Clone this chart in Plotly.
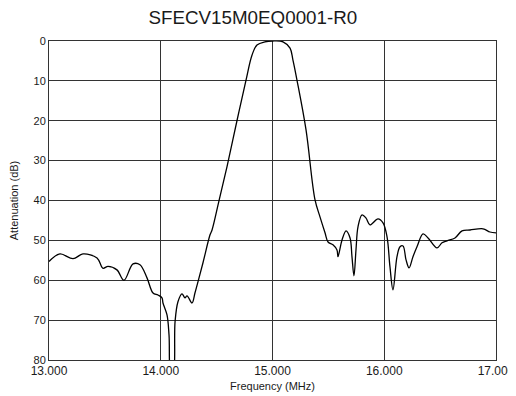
import plotly.graph_objects as go

freq_mhz = [13.000, 13.098, 13.215, 13.304, 13.430, 13.483, 13.528, 13.608, 13.671, 13.752,
            13.814, 13.877, 13.931, 13.975, 14.011, 14.020, 14.056, 14.074, 14.092, 14.110,
            14.128, 14.154, 14.190, 14.217, 14.235, 14.280, 14.306, 14.333, 14.378, 14.441,
            14.459, 14.521, 14.593, 14.682, 14.763, 14.817, 14.861, 14.933, 15.000, 15.094,
            15.157, 15.183, 15.219, 15.300, 15.380, 15.425, 15.470, 15.497, 15.541, 15.577,
            15.586, 15.622, 15.658, 15.694, 15.711, 15.729, 15.747, 15.765, 15.801, 15.837,
            15.872, 15.944, 15.989, 16.025, 16.051, 16.078, 16.114, 16.141, 16.168, 16.195,
            16.222, 16.257, 16.293, 16.347, 16.392, 16.472, 16.517, 16.562, 16.633, 16.696,
            16.767, 16.884, 16.946, 17.000]
atten_db = [55.3, 53.4, 54.6, 53.4, 54.4, 57.0, 56.5, 57.4, 60.0, 55.9,
            56.1, 59.4, 63.2, 63.7, 64.4, 65.7, 68.7, 73.7, 84.0, 84.0,
            70.4, 65.4, 63.4, 64.4, 63.9, 65.7, 63.2, 60.4, 55.6, 48.6,
            47.4, 40.1, 31.5, 20.0, 9.8, 3.5, 1.0, 0.2, 0.0, 0.2,
            1.8, 4.8, 9.8, 22.3, 39.8, 44.1, 48.1, 50.4, 51.1, 52.4,
            54.1, 49.9, 47.6, 49.4, 54.0, 58.9, 52.4, 46.6, 43.6, 44.4,
            46.1, 44.6, 45.6, 49.1, 56.6, 62.4, 54.1, 51.6, 51.4, 54.9,
            56.9, 54.1, 51.6, 48.4, 49.4, 51.9, 50.6, 50.1, 49.4, 47.6,
            47.4, 47.1, 47.9, 48.1]

x_ticks = [13, 14, 15, 16, 17]
x_tick_labels = ["13.000", "14.000", "15.000", "16.000", "17.000"]
y_ticks = [0, 10, 20, 30, 40, 50, 60, 70, 80]

fig = go.Figure()
fig.add_trace(go.Scatter(x=freq_mhz, y=atten_db, mode="lines",
                         line=dict(color="black", width=1.3, shape="spline", smoothing=1.0),
                         hoverinfo="skip", showlegend=False))

font = "Liberation Sans, Arial, sans-serif"
# page body has an 8px margin, so the figure is sized/offset to land on the reference layout
fig.update_layout(
    width=508, height=388,
    margin=dict(l=41, r=20, t=33, b=36),
    paper_bgcolor="white", plot_bgcolor="white",
    title=dict(text="SFECV15M0EQ0001-R0", x=0.482, xanchor="center", y=0.977, yanchor="middle",
               font=dict(family=font, size=18.8, color="#1a1a1a")),
    font=dict(family=font, size=11, color="#1a1a1a"),
    xaxis=dict(range=[13, 17], tickvals=x_ticks, ticktext=x_tick_labels,
               tickfont=dict(size=12), automargin=False,
               showgrid=True, gridcolor="#333", gridwidth=1,
               showline=True, linecolor="#333", linewidth=1, mirror=True,
               ticks="", zeroline=False,
               title=dict(text="Frequency (MHz)", font=dict(size=11), standoff=4)),
    yaxis=dict(range=[80, 0], tickvals=y_ticks, tickfont=dict(size=11), automargin=False,
               showgrid=True, gridcolor="#333", gridwidth=1,
               showline=True, linecolor="#333", linewidth=1, mirror=True,
               ticks="", zeroline=False,
               title=dict(text="Attenuation (dB)", font=dict(size=11), standoff=12)),
)
fig.write_html("out.html")
